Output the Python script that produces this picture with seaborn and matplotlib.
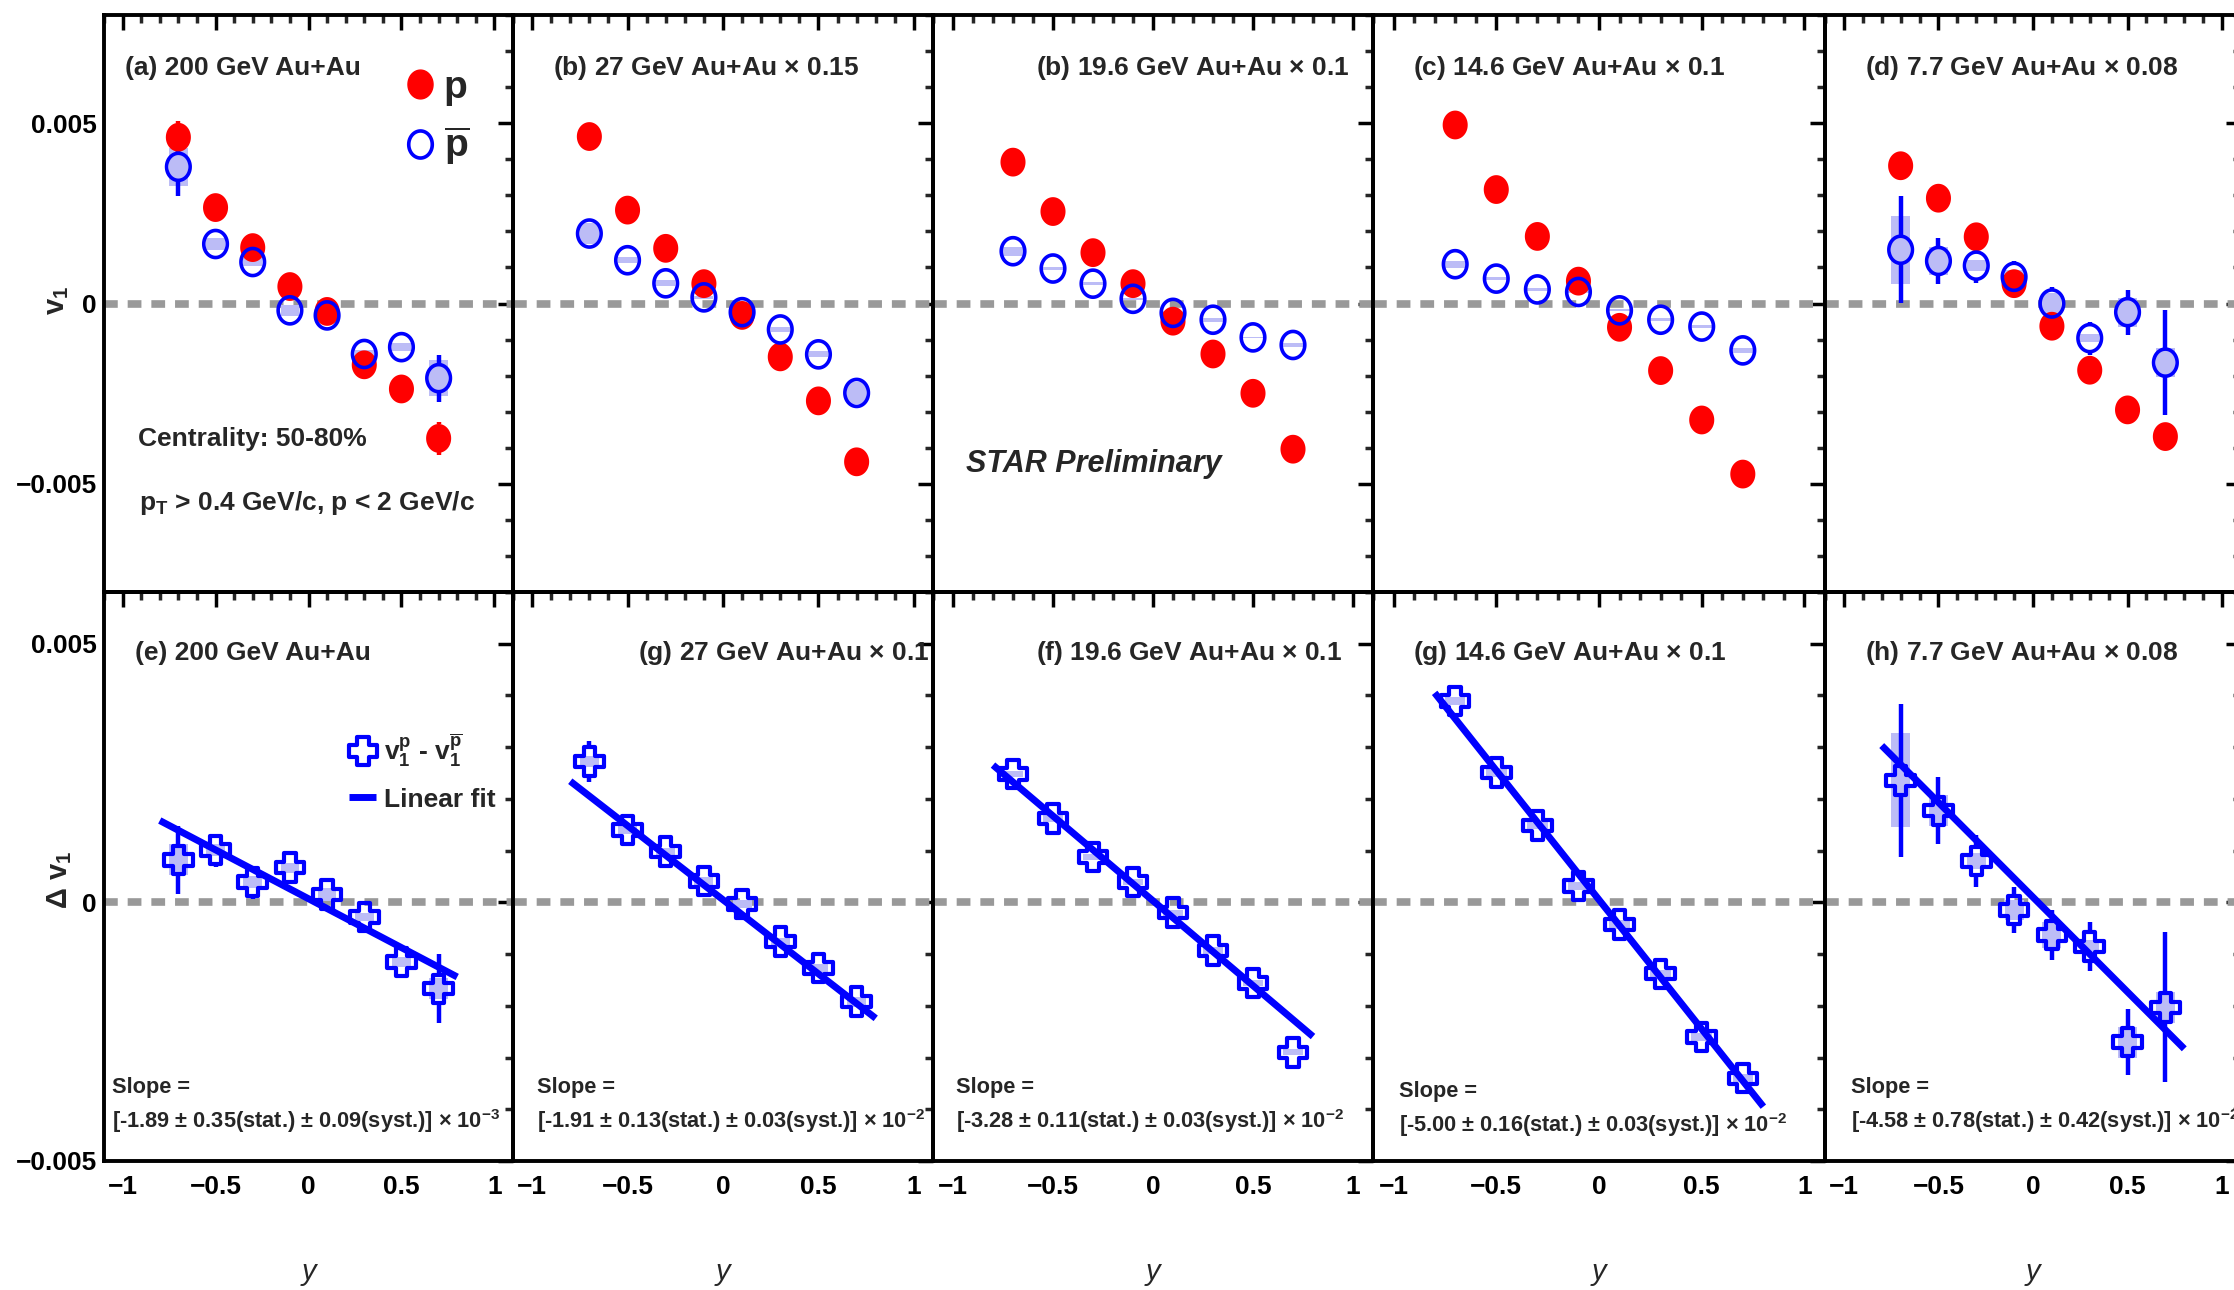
import numpy as np
import matplotlib
matplotlib.use("Agg")
import matplotlib.pyplot as plt
from matplotlib import font_manager
from matplotlib.path import Path
from matplotlib.lines import Line2D
from matplotlib.patches import Rectangle
from matplotlib.ticker import MultipleLocator, FuncFormatter
import seaborn as sns

# ------------------------------------------------------------------ data
rapidity = [-0.7, -0.5, -0.3, -0.1, 0.1, 0.3, 0.5, 0.7]

energy_labels = ["200", "27", "19.6", "14.6", "7.7"]
scale_factors = [1.0, 0.15, 0.1, 0.1, 0.08]

top_titles = [
    "(a) 200 GeV Au+Au",
    "(b) 27 GeV Au+Au $\\mathrm{\\times}$ 0.15",
    "(b) 19.6 GeV Au+Au $\\mathrm{\\times}$ 0.1",
    "(c) 14.6 GeV Au+Au $\\mathrm{\\times}$ 0.1",
    "(d) 7.7 GeV Au+Au $\\mathrm{\\times}$ 0.08",
]
bottom_titles = [
    "(e) 200 GeV Au+Au",
    "(g) 27 GeV Au+Au $\\mathrm{\\times}$ 0.1",
    "(f) 19.6 GeV Au+Au $\\mathrm{\\times}$ 0.1",
    "(g) 14.6 GeV Au+Au $\\mathrm{\\times}$ 0.1",
    "(h) 7.7 GeV Au+Au $\\mathrm{\\times}$ 0.08",
]

# proton v1 (already multiplied by the panel scale factor)
v1_p_200 = [0.00461, 0.00266, 0.00155, 0.00047, -0.00022, -0.00170, -0.00237, -0.00374]
v1_p_27 = [0.00463, 0.00259, 0.00153, 0.00055, -0.00033, -0.00148, -0.00270, -0.00439]
v1_p_19 = [0.00392, 0.00255, 0.00141, 0.00055, -0.00049, -0.00140, -0.00249, -0.00404]
v1_p_14 = [0.00495, 0.00316, 0.00186, 0.00062, -0.00066, -0.00186, -0.00323, -0.00473]
v1_p_7 = [0.00382, 0.00292, 0.00185, 0.00055, -0.00063, -0.00185, -0.00295, -0.00369]

v1_p_err_200 = [0.00045, 0.0002, 0.0002, 0.0002, 0.0002, 0.0002, 0.0002, 0.00045]
v1_p_err_27 = [0.00015] * 8
v1_p_err_19 = [0.00015] * 8
v1_p_err_14 = [0.00015] * 8
v1_p_err_7 = [0.0002] * 8

# anti-proton v1
v1_pbar_200 = [0.00379, 0.00165, 0.00115, -0.00019, -0.00033, -0.00140, -0.00121, -0.00207]
v1_pbar_27 = [0.00194, 0.00120, 0.00056, 0.00017, -0.00024, -0.00072, -0.00141, -0.00248]
v1_pbar_19 = [0.00145, 0.00097, 0.00055, 0.00013, -0.00026, -0.00045, -0.00094, -0.00115]
v1_pbar_14 = [0.00109, 0.00069, 0.00039, 0.00032, -0.00019, -0.00045, -0.00064, -0.00130]
v1_pbar_7 = [0.00149, 0.00118, 0.00105, 0.00074, 0.00000, -0.00096, -0.00024, -0.00164]

v1_pbar_err_200 = [0.0008, 0.0003, 0.0003, 0.0003, 0.0003, 0.0003, 0.0003, 0.00065]
v1_pbar_err_27 = [0.0002] * 8
v1_pbar_err_19 = [0.0002] * 8
v1_pbar_err_14 = [0.0002] * 8
v1_pbar_err_7 = [0.00148, 0.00063, 0.00047, 0.00044, 0.00046, 0.00046, 0.00062, 0.00145]

v1_pbar_sys_200 = [0.00053, 0.00016, 0.0001, 0.00015, 0.00005, 0.0001, 0.00012, 0.0005]
v1_pbar_sys_27 = [0.0003, 0.00008, 0.00008, 0.00005, 0.00005, 0.00006, 0.00008, 0.0003]
v1_pbar_sys_19 = [0.00012, 0.00004, 0.00004, 0.00003, 0.00004, 0.00005, 0.00002, 0.00005]
v1_pbar_sys_14 = [0.0001, 0.00004, 0.00005, 0.00004, 0.00003, 0.00004, 0.00003, 0.00006]
v1_pbar_sys_7 = [0.00095, 0.0004, 0.00015, 0.0002, 0.0003, 0.00012, 0.0004, 0.0004]

# difference v1(p) - v1(pbar)
dv1_200 = [0.00082, 0.00101, 0.00039, 0.00067, 0.00015, -0.00028, -0.00115, -0.00167]
dv1_27 = [0.00272, 0.00140, 0.00098, 0.00041, -0.00003, -0.00076, -0.00127, -0.00192]
dv1_19 = [0.00248, 0.00162, 0.00088, 0.00039, -0.00020, -0.00093, -0.00156, -0.00290]
dv1_14 = [0.00389, 0.00251, 0.00149, 0.00032, -0.00043, -0.00138, -0.00260, -0.00340]
dv1_7 = [0.00236, 0.00177, 0.00080, -0.00015, -0.00063, -0.00085, -0.00270, -0.00203]

dv1_err_200 = [0.00066, 0.00032, 0.00032, 0.00032, 0.00028, 0.0003, 0.00032, 0.00067]
dv1_err_27 = [0.0004, 0.0002, 0.0002, 0.0002, 0.0002, 0.0002, 0.0002, 0.0003]
dv1_err_19 = [0.0002] * 8
dv1_err_14 = [0.00025] * 8
dv1_err_7 = [0.00148, 0.00065, 0.0005, 0.00044, 0.00048, 0.00048, 0.00063, 0.00145]

dv1_sys_200 = [0.0003, 0.00012, 0.00012, 0.0001, 0.00012, 0.00008, 0.0001, 0.0002]
dv1_sys_27 = [0.0001, 0.00008, 0.00008, 0.00008, 0.00008, 0.00008, 0.00008, 0.0001]
dv1_sys_19 = [0.00006] * 8
dv1_sys_14 = [0.00008] * 8
dv1_sys_7 = [0.00091, 0.0003, 0.00015, 0.0002, 0.00025, 0.00012, 0.0003, 0.0003]

# linear fits of the difference
slope_values = [-1.89, -1.91, -3.28, -5.00, -4.58]
slope_stat = [0.35, 0.13, 0.11, 0.16, 0.78]
slope_syst = [0.09, 0.03, 0.03, 0.03, 0.42]
slope_exponent = [-3, -2, -2, -2, -2]
fit_intercepts = [0.00007, 0.00005, 0.00003, 0.00005, 0.00010]
fit_range = [-0.8, 0.8]

v1_p = [v1_p_200, v1_p_27, v1_p_19, v1_p_14, v1_p_7]
v1_p_err = [v1_p_err_200, v1_p_err_27, v1_p_err_19, v1_p_err_14, v1_p_err_7]
v1_pbar = [v1_pbar_200, v1_pbar_27, v1_pbar_19, v1_pbar_14, v1_pbar_7]
v1_pbar_err = [v1_pbar_err_200, v1_pbar_err_27, v1_pbar_err_19, v1_pbar_err_14, v1_pbar_err_7]
v1_pbar_sys = [v1_pbar_sys_200, v1_pbar_sys_27, v1_pbar_sys_19, v1_pbar_sys_14, v1_pbar_sys_7]
dv1 = [dv1_200, dv1_27, dv1_19, dv1_14, dv1_7]
dv1_err = [dv1_err_200, dv1_err_27, dv1_err_19, dv1_err_14, dv1_err_7]
dv1_sys = [dv1_sys_200, dv1_sys_27, dv1_sys_19, dv1_sys_14, dv1_sys_7]

# ------------------------------------------------------------------ style
available = {f.name for f in font_manager.fontManager.ttflist}
base_font = "Liberation Sans Narrow" if "Liberation Sans Narrow" in available else "Liberation Sans"

sns.set_style("white")
plt.rcParams["font.family"] = [base_font, "DejaVu Sans"]
plt.rcParams["font.weight"] = "bold"
plt.rcParams["mathtext.fontset"] = "custom"
plt.rcParams["mathtext.rm"] = base_font
plt.rcParams["mathtext.bf"] = base_font + ":bold"
plt.rcParams["mathtext.it"] = base_font + ":italic"
plt.rcParams["mathtext.default"] = "regular"

FS_TEXT = 19
FS_TICK = 19
FS_SLOPE = 15.7
FS_STAR = 22
FS_LABEL = 21
FS_PLEG = 28

RED = "#ff0000"
BLUE = "#0000ff"
SYS_BLUE = "#bcbcf6"
ZERO_GREY = "#999999"

theta = np.linspace(0, 2 * np.pi, 65)
ELLIPSE = Path(np.column_stack([0.87 * np.cos(theta), np.sin(theta)]), closed=True)
t = 0.4
CROSS = Path([(-t, 1), (t, 1), (t, t), (1, t), (1, -t), (t, -t), (t, -1), (-t, -1),
              (-t, -t), (-1, -t), (-1, t), (-t, t), (-t, 1)], closed=True)

S_RED = 430
S_PBAR = 380
S_CROSS = 420

W, H = 2234, 1290
fig = plt.figure(figsize=(W / 100, H / 100), dpi=100)
fig.patch.set_facecolor("white")

col_edges = [104, 513, 933, 1373, 1825, 2241]
row_edges = [15, 592, 1161]
XLIM = (-1.1, 1.1)
YLIM_TOP = (-0.008, 0.008)
YLIM_BOT = (-0.005, 0.006)


def fmt(v, pos):
    if abs(v) < 1e-12:
        return "0"
    return f"{v:g}".replace("-", "\u2212")


def make_axes(c, r):
    x0, x1 = col_edges[c], col_edges[c + 1]
    y0, y1 = row_edges[r], row_edges[r + 1]
    ax = fig.add_axes([x0 / W, 1 - y1 / H, (x1 - x0) / W, (y1 - y0) / H])
    ax.set_facecolor("none")
    ax.set_xlim(*XLIM)
    ax.set_ylim(*(YLIM_TOP if r == 0 else YLIM_BOT))
    ax.xaxis.set_major_locator(MultipleLocator(0.5))
    ax.xaxis.set_minor_locator(MultipleLocator(0.1))
    ax.yaxis.set_major_locator(MultipleLocator(0.005))
    ax.yaxis.set_minor_locator(MultipleLocator(0.001))
    ax.xaxis.set_major_formatter(FuncFormatter(fmt))
    ax.yaxis.set_major_formatter(FuncFormatter(fmt))
    ax.tick_params(which="major", direction="in", length=11, width=2.5,
                   top=True, right=True, labelsize=FS_TICK, colors="black")
    ax.tick_params(which="minor", direction="in", length=6, width=2.5,
                   top=True, right=True)
    ax.tick_params(axis="x", pad=10)
    ax.tick_params(axis="y", pad=5)
    ax.tick_params(labelbottom=(r == 1), labelleft=(c == 0))
    for sp in ax.spines.values():
        sp.set_linewidth(2.8)
        sp.set_color("black")
        sp.set_visible(True)
    ax.axhline(0, color=ZERO_GREY, lw=5.5, dashes=(1.8, 1.3), zorder=1)
    return ax


def data_per_px(ax):
    lo, hi = ax.get_ylim()
    return (hi - lo) / ax.get_window_extent().height


def draw_sys(ax, x, y, half, color):
    for xi, yi, hi in zip(x, y, half):
        ax.add_patch(Rectangle((xi - 0.05, yi - hi), 0.1, 2 * hi,
                               facecolor=color, edgecolor="none", zorder=2))


def draw_stat(ax, x, y, err, color, gap_px):
    gap = gap_px * data_per_px(ax)
    for xi, yi, ei in zip(x, y, err):
        if ei > gap:
            ax.vlines([xi, xi], [yi + gap, yi - ei], [yi + ei, yi - gap],
                      color=color, lw=3.2, zorder=3)


def px(x, y):
    return x / W, 1 - y / H


top_title_x = [125, 553, 1036, 1413, 1865]
bot_title_x = [135, 638, 1036, 1413, 1865]
slope_x = [112, 537, 956, 1399, 1851]
slope_y = [1088, 1088, 1088, 1092, 1088]

for c in range(5):
    # ---------------- upper row: v1 of p and pbar
    ax = make_axes(c, 0)
    draw_sys(ax, rapidity, v1_pbar[c], v1_pbar_sys[c], SYS_BLUE)
    draw_stat(ax, rapidity, v1_p[c], v1_p_err[c], RED, 14)
    draw_stat(ax, rapidity, v1_pbar[c], v1_pbar_err[c], BLUE, 14)
    sns.scatterplot(x=rapidity, y=v1_p[c], ax=ax, marker=ELLIPSE, s=S_RED,
                    color=RED, edgecolor="none", linewidth=0, zorder=4, legend=False)
    sns.scatterplot(x=rapidity, y=v1_pbar[c], ax=ax, marker=ELLIPSE, s=S_PBAR,
                    facecolor="none", edgecolor=BLUE, linewidth=2.6, zorder=5, legend=False)
    ax.set_xlabel("")
    ax.set_ylabel("")
    fig.text(*px(top_title_x[c], 68), top_titles[c], fontsize=FS_TEXT,
             ha="left", va="center")
    if c == 0:
        handles = [
            Line2D([], [], ls="", marker=ELLIPSE, markersize=S_RED ** 0.5,
                   markerfacecolor=RED, markeredgecolor=RED),
            Line2D([], [], ls="", marker=ELLIPSE, markersize=S_PBAR ** 0.5,
                   markerfacecolor="none", markeredgecolor=BLUE, markeredgewidth=2.6),
        ]
        ax.legend(handles, ["p", "$\\overline{\\mathbf{p}}$"], loc="upper left",
                  bbox_to_anchor=(0.735, 0.905), frameon=False,
                  prop={"size": FS_PLEG, "weight": "bold"}, handlelength=0.8,
                  handletextpad=0.2, labelspacing=0.5, borderpad=0, borderaxespad=0)

    # ---------------- lower row: difference and linear fit
    ax = make_axes(c, 1)
    draw_sys(ax, rapidity, dv1[c], dv1_sys[c], SYS_BLUE)
    draw_stat(ax, rapidity, dv1[c], dv1_err[c], BLUE, 14)
    sns.scatterplot(x=rapidity, y=dv1[c], ax=ax, marker=CROSS, s=S_CROSS,
                    facecolor="none", edgecolor=BLUE, linewidth=3, zorder=5, legend=False)
    slope = slope_values[c] * 10.0 ** slope_exponent[c] * scale_factors[c]
    fit_y = [fit_intercepts[c] + slope * xv for xv in fit_range]
    sns.lineplot(x=fit_range, y=fit_y, ax=ax, color=BLUE, lw=5,
                 solid_capstyle="butt", zorder=6, legend=False)
    ax.set_xlabel("")
    ax.set_ylabel("")
    ax.text(0.5, -0.195, "y", transform=ax.transAxes, fontsize=FS_LABEL,
            style="italic", weight="normal", ha="center", va="center")
    fig.text(*px(bot_title_x[c], 653), bottom_titles[c], fontsize=FS_TEXT,
             ha="left", va="center")
    fig.text(*px(slope_x[c], slope_y[c]), "Slope =", fontsize=FS_SLOPE,
             ha="left", va="center")
    fig.text(*px(slope_x[c], slope_y[c] + 33),
             f"[{slope_values[c]:.2f} $\\mathrm{{\\pm}}$ {slope_stat[c]:.2f}(stat.) "
             f"$\\mathrm{{\\pm}}$ {slope_syst[c]:.2f}(syst.)] $\\mathrm{{\\times}}$ "
             f"10$^{{{slope_exponent[c]}}}$",
             fontsize=FS_SLOPE, ha="left", va="center")
    if c == 0:
        handles = [
            Line2D([], [], ls="", marker=CROSS, markersize=S_CROSS ** 0.5,
                   markerfacecolor="none", markeredgecolor=BLUE, markeredgewidth=3),
            Line2D([], [], color=BLUE, lw=5, solid_capstyle="butt"),
        ]
        ax.legend(handles, ["v$_1^{p}$ - v$_1^{\\overline{p}}$", "Linear fit"],
                  loc="upper left", bbox_to_anchor=(0.6, 0.755), frameon=False,
                  prop={"size": FS_TEXT, "weight": "bold"}, handlelength=1.0,
                  handletextpad=0.3, labelspacing=0.7, borderpad=0, borderaxespad=0)

# panel-level annotations
fig.text(*px(138, 439), "Centrality: 50-80%", fontsize=FS_TEXT, ha="left", va="center")
fig.text(*px(139, 510), "p$_{T}$ > 0.4 GeV/c, p < 2 GeV/c", fontsize=FS_TEXT,
         ha="left", va="baseline")
fig.text(*px(966, 464), "STAR Preliminary", fontsize=FS_STAR, style="italic",
         ha="left", va="center")
fig.text(*px(57, 300), "v$_{1}$", fontsize=FS_LABEL, rotation=90, ha="center", va="center")
fig.text(*px(60, 880), "\u0394 v$_{1}$", fontsize=FS_LABEL, rotation=90,
         ha="center", va="center")

fig.savefig("out.png", dpi=100, facecolor="white")
